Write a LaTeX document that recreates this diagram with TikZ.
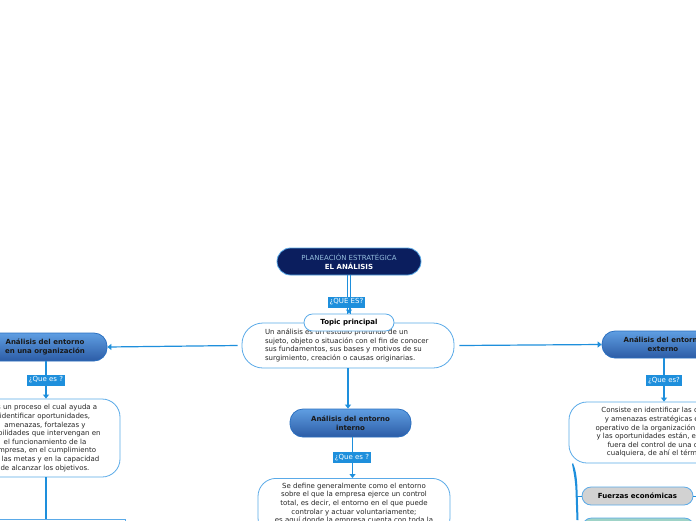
\documentclass[tikz,border=0pt]{standalone}
\usepackage{fontspec}
\setmainfont{DejaVu Sans}
\usetikzlibrary{arrows.meta,shapes.misc,positioning}
\definecolor{navy}{HTML}{0B1E5E}
\definecolor{lblue}{HTML}{5AAAE8}
\definecolor{cblue}{HTML}{1E8FDC}
\definecolor{gtop}{HTML}{5F9EE2}
\definecolor{gbot}{HTML}{2C5CA6}
\definecolor{gbord}{HTML}{2A6FC0}
\definecolor{grayf}{HTML}{D2D2D2}
\definecolor{teal}{HTML}{9FD3C7}
\tikzset{
  fs/.style={font=\fontsize{7}{8.6}\selectfont},
  pill/.style={rounded rectangle, draw=lblue, line width=0.8pt, inner sep=0pt},
  bluenode/.style={rounded corners=13pt, draw=gbord, line width=0.8pt, top color=gtop, bottom color=gbot, align=center, font=\fontsize{7}{8.6}\selectfont\bfseries, text=black!90, inner sep=0pt},
  textbox/.style={rounded corners=18pt, draw=lblue, line width=0.8pt, fill=white, fs, inner sep=0pt, text=black!85},
  qlabel/.style={fill=cblue, text=white, fs, inner sep=2pt, minimum height=11pt},
  conn/.style={draw=cblue, line width=1.2pt},
  arr/.style={conn, -{Triangle[width=6pt,length=4pt]}},
}
\begin{document}
\begin{tikzpicture}[x=1pt,y=-1pt]
\useasboundingbox (0,0) rectangle (696,520);
\clip (0,0) rectangle (696,520);
\fill[white] (0,0) rectangle (696,520);

% main title
\node[pill, fill=navy, minimum width=144pt, minimum height=27pt, align=center, fs] (title) at (349,261.5)
  {\textcolor{black!15!lblue!60!white}{PLANEACIÓN ESTRATÉGICA}\\\textcolor{white}{\bfseries EL ANÁLISIS}};

% central text box
\node[textbox, rounded corners=21pt, minimum width=212pt, minimum height=45pt] (main) at (348,345.5)
  {\hspace*{8pt}\parbox{174pt}{\raggedright Un análisis es un estudio profundo de un\\sujeto, objeto o situación con el fin de conocer\\sus fundamentos, sus bases y motivos de su\\surgimiento, creación o causas originarias.}};
\node[pill, fill=white, minimum width=90pt, minimum height=17pt, font=\fontsize{7}{8.6}\selectfont\bfseries] (topic) at (349,322.5) {Topic principal};

% title -> topic
\draw[conn, line width=1pt] ([xshift=-1.6pt]title.south) -- ([xshift=-1.6pt]topic.north);
\draw[conn, line width=1pt] ([xshift=1.6pt]title.south) -- ([xshift=1.6pt]topic.north);
\draw[arr, line width=1pt] (349,306) -- (topic.north);
\node[qlabel] (q0) at (346.5,302) {¿QUE ES?};

% left branch
\node[bluenode, minimum width=124pt, minimum height=28pt] (org) at (45,347) {Análisis del entorno\\en una organización};
\node[textbox, minimum width=150pt, minimum height=78pt, align=center] (orgtxt) at (45,438)
  {Es un proceso el cual ayuda a\\identificar oportunidades,\\amenazas, fortalezas y\\debilidades que intervengan en\\el funcionamiento de la\\empresa, en el cumplimiento\\de las metas y en la capacidad\\de alcanzar los objetivos.};
\node[draw=lblue, line width=0.8pt, fill=white, minimum width=170pt, minimum height=40pt, inner sep=0pt] (orgnext) at (40,539) {};
\draw[arr] ([xshift=-4pt]main.west) -- (org.east);
\draw[arr] ([xshift=1pt]org.south) -- ([xshift=1pt]orgtxt.north);
\node[qlabel] (q1) at (46,380) {¿Que es ?};
\draw[conn] ([xshift=1pt]orgtxt.south) -- ([xshift=1pt]orgtxt.south |- orgnext.north);

% central branch
\node[bluenode, minimum width=121pt, minimum height=28pt] (int) at (350.5,423) {Análisis del entorno\\interno};
\node[textbox, minimum width=192pt, inner ysep=4.5pt, anchor=north] (inttxt) at (354,478)
  {\parbox{190pt}{\centering Se define generalmente como el entorno\\sobre el que la empresa ejerce un control\\total, es decir, el entorno en el que puede\\controlar y actuar voluntariamente;\\es aquí donde la empresa cuenta con toda la\\información necesaria}};
\draw[arr] (main.south) -- (main.south |- int.north);
\draw[arr] ([xshift=2pt]int.south) -- ([xshift=2pt]int.south |- inttxt.north);
\node[qlabel] (q2) at (352,457.5) {¿Que es ?};

% right branch
\node[bluenode, minimum width=122pt, minimum height=27pt] (ext) at (663,344.5) {Análisis del entorno\\externo};
\node[textbox, minimum width=208pt, minimum height=61pt, align=center] (exttxt) at (673,432.5)
  {Consiste en identificar las oportunidades\\y amenazas estratégicas en el entorno\\operativo de la organización. Las amenazas\\y las oportunidades están, en gran medida,\\fuera del control de una organización\\cualquiera, de ahí el término externo.};
\draw[arr] ([xshift=5pt]main.east) -- (ext.west);
\draw[arr] ([xshift=1pt]ext.south) -- ([xshift=1pt]ext.south |- exttxt.north);
\node[qlabel] (q3) at (664,380.5) {¿Que es?};

\node[pill, fill=grayf, minimum width=111pt, minimum height=18pt, font=\fontsize{7}{8.6}\selectfont\bfseries] (fe) at (637.5,496) {Fuerzas económicas};
\node[pill, fill=teal, minimum width=111pt, minimum height=18pt] (fnext) at (638,527) {};
\coordinate (br) at (573,463);
\fill[cblue] (br) .. controls (575,468) and (577,474) .. (577.5,490) -- (578.5,520) -- (576.5,520) -- (575.5,490) .. controls (575,478) and (573,470) .. (572,464) -- cycle;
\draw[conn, line width=1pt] (577,496) -- (fe.west);
\coordinate (feout) at (700,496);
\draw[conn, line width=1pt] (fe.east) -- (feout);
\end{tikzpicture}
\end{document}
